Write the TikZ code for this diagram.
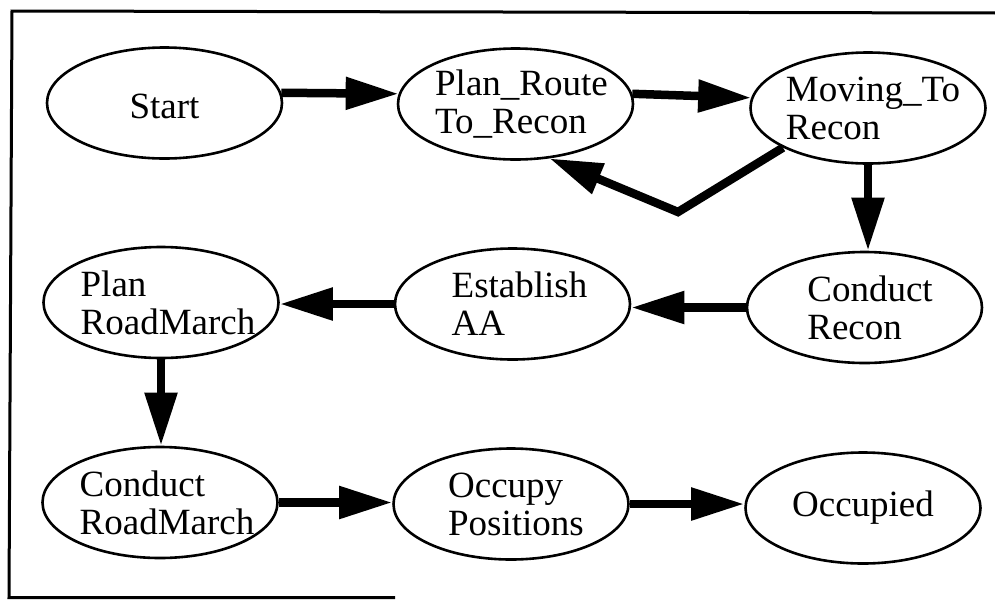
\documentclass[tikz,border=0pt]{standalone}
\usepackage{fontspec}
\setmainfont{Liberation Serif}
\usetikzlibrary{arrows.meta,shapes.geometric}
\begin{document}
\begin{tikzpicture}[x=1pt,y=-1pt,
  state/.style={draw, ellipse, line width=2.6pt, minimum width=235pt, minimum height=111pt, inner sep=0pt},
  conn/.style={line width=8.5pt, -{Triangle[length=53pt,width=31pt]}},
  lbl/.style={font=\fontsize{37}{38}\selectfont, align=left, inner sep=0pt},
  frame/.style={line width=3pt}
]
\useasboundingbox (0,0) rectangle (995,600);
\draw[frame] (395,597.5) -- (9,597.5) -- (12,11) -- (996,13);

% states
\node[state] (start) at (164.5,103) {};
\node[state] (plan)  at (515.5,104) {};
\node[state] (mov)   at (868,108) {};
\node[state] (cr)    at (864.5,307.5) {};
\node[state] (ea)    at (512.5,304) {};
\node[state] (prm)   at (161,302.5) {};
\node[state] (crm)   at (160,502.5) {};
\node[state] (op)    at (511,504) {};
\node[state] (occ)   at (863,508) {};

% labels
\node[lbl] (startT) at ([yshift=-3pt]start.center) {Start};
\node[lbl] (planT)  at ([xshift=6pt]plan.center) {Plan\_Route\\To\_Recon};
\node[lbl] (movT)   at ([xshift=5pt]mov.center) {Moving\_To\\Recon};
\node[lbl] (crT)    at ([xshift=5.5pt]cr.center) {Conduct\\Recon};
\node[lbl] (eaT)    at ([xshift=7pt]ea.center) {Establish\\AA};
\node[lbl] (prmT)   at ([xshift=7pt]prm.center) {Plan\\RoadMarch};
\node[lbl] (crmT)   at ([xshift=7pt]crm.center) {Conduct\\RoadMarch};
\node[lbl] (opT)    at ([xshift=5pt]op.center) {Occupy\\Positions};
\node[lbl] (occT)   at (occ.center) {Occupied};

% connectors
\coordinate (bend) at (678,212);
\draw[conn] (start.5) -- (plan.175);
\draw[conn] (plan.5) -- (mov.175);
\draw[conn] (mov.205) -- (bend) -- (plan.302);
\draw[conn] (mov.south) -- (mov.south |- cr.north);
\draw[conn] (cr.west) -- (cr.west -| ea.east);
\draw[conn] (ea.west) -- (ea.west -| prm.east);
\draw[conn] (prm.south) -- (prm.south |- crm.north);
\draw[conn] (crm.east) -- (crm.east -| op.west);
\draw[conn] (op.east) -- (op.east -| occ.west);
\end{tikzpicture}
\end{document}
